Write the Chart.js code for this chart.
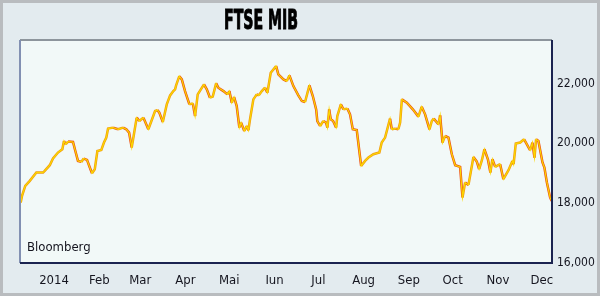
<!DOCTYPE html>
<html>
<head>
<meta charset="utf-8">
<title>FTSE MIB</title>
<script src="https://cdn.jsdelivr.net/npm/chart.js@4/dist/chart.umd.min.js"></script>
<style>
  html, body { margin: 0; padding: 0; background: #e3ebef; }
  canvas { display: block; }
</style>
</head>
<body>
<canvas id="ftseChart" width="600" height="296"></canvas>
<script>
// day offset from 1 Jan 2014
const days = [
  -22.8, -21.9, -19.7, -16.6, -12.1, -7.5, -6.4, -2.9, -0.7, 2.7,
  5.7, 6.8, 8.0, 9.6, 13.0, 14.6, 16.4, 18.7, 20.3, 22.6,
  24.5, 26.0, 27.9, 29.7, 32.4, 34.2, 35.8, 37.0, 40.4, 43.8,
  47.3, 49.5, 51.4, 53.2, 56.6, 58.4, 61.2, 64.6, 69.2, 70.8,
  72.1, 74.5, 77.2, 79.5, 81.7, 82.9, 83.6, 85.8, 87.5, 89.7,
  92.7, 95.0, 96.6, 98.4, 102.7, 104.6, 106.8, 108.7, 111.0, 112.5,
  116.0, 118.7, 120.1, 121.7, 123.3, 125.1, 126.9, 128.1, 130.3, 132.0,
  133.1, 134.2, 136.5, 138.8, 140.2, 142.3, 144.5, 146.1, 148.4, 152.1,
  153.6, 157.1, 159.4, 161.2, 163.9, 167.3, 169.7, 171.9, 174.9, 177.2,
  179.5, 180.3, 182.2, 184.4, 186.3, 187.2, 188.4, 189.5, 191.1, 193.2,
  194.0, 196.4, 198.2, 200.9, 202.7, 204.6, 207.3, 210.3, 213.0, 215.3,
  218.7, 222.8, 224.4, 226.7, 230.1, 231.3, 233.6, 235.8, 237.0, 238.2,
  241.6, 245.7, 249.5, 251.8, 254.1, 257.1, 258.7, 260.0, 263.2, 264.4,
  266.0, 267.8, 270.1, 272.4, 274.7, 278.1, 279.7, 281.5, 283.8, 287.2,
  289.5, 291.1, 293.0, 294.7, 297.1, 298.8, 300.2, 302.1, 305.5, 307.7,
  311.2, 313.9, 314.7, 316.2, 319.2, 321.9, 326.0, 327.6, 329.0, 330.1,
  331.7, 334.5, 335.8, 337.5, 339.7, 340.8
];

const closes = [
  18020, 18243, 18577, 18743, 19023, 19023, 19077, 19267, 19490, 19690,
  19800, 20077, 19967, 20057, 20043, 19743, 19410, 19377, 19490, 19443,
  19190, 19000, 19133, 19743, 19777, 20023, 20190, 20490, 20523, 20467,
  20523, 20467, 20357, 19857, 20857, 20743, 20857, 20467, 21077, 21110,
  21023, 20710, 21300, 21600, 21743, 21800, 21933, 22243, 22133, 21743,
  21300, 21333, 20910, 21633, 21967, 21800, 21523, 21557, 22000, 21857,
  21743, 21633, 21743, 21357, 21543, 21243, 20523, 20690, 20410, 20577,
  20433, 20800, 21467, 21633, 21600, 21743, 21857, 21690, 22357, 22577,
  22300, 22133, 22077, 22267, 21910, 21600, 21410, 21377, 21933, 21577,
  21133, 20743, 20577, 20743, 20690, 20523, 21133, 20800, 20743, 20523,
  20910, 21300, 21133, 21157, 20967, 20467, 20443, 19243, 19410, 19523,
  19633, 19690, 20023, 20190, 20823, 20467, 20490, 20467, 20690, 21467,
  21357, 21133, 20890, 21223, 20967, 20467, 20743, 20823, 20633, 20933,
  20023, 20243, 20190, 19633, 19267, 19210, 18190, 18690, 18610, 19543,
  19390, 19133, 19433, 19800, 19467, 19023, 19467, 19210, 19300, 18800,
  19100, 19410, 19300, 19990, 20023, 20133, 19767, 20023, 19523, 20133,
  20077, 19357, 19190, 18690, 18190, 18070
];

const monthStarts = [0, 31, 59, 90, 120, 151, 181, 212, 243, 273, 304, 334];
const monthLabels = ["2014", "Feb", "Mar", "Apr", "Mai", "Iun", "Jul", "Aug", "Sep", "Oct", "Nov", "Dec"];
const yTicks = [16000, 18000, 20000, 22000];

const FONT = "'DejaVu Sans Condensed', 'Liberation Sans Narrow', sans-serif";
Chart.defaults.font.family = FONT;
Chart.defaults.font.size = 13;
Chart.defaults.color = "#15151f";

const points = days.map((d, i) => ({ x: d, y: closes[i] }));

// backdrop, plot fill, borders, title and source text
const decor = {
  id: "decor",
  beforeDraw(chart) {
    const { ctx, chartArea: a, width, height } = chart;
    ctx.save();
    ctx.fillStyle = "#e3ebef";
    ctx.fillRect(0, 0, width, height);
    ctx.strokeStyle = "#b9bcbf";
    ctx.lineWidth = 3;
    ctx.strokeRect(1.5, 1.5, width - 3, height - 3);
    ctx.fillStyle = "#f2f9f8";
    ctx.fillRect(a.left, a.top, a.right - a.left, a.bottom - a.top);
    ctx.restore();
  },
  afterDraw(chart) {
    const { ctx, chartArea: a } = chart;
    ctx.save();
    ctx.lineWidth = 2;
    ctx.strokeStyle = "#8d959c";
    ctx.beginPath(); ctx.moveTo(a.left, a.top); ctx.lineTo(a.right, a.top); ctx.stroke();
    ctx.strokeStyle = "#8290b2";
    ctx.beginPath(); ctx.moveTo(a.left, a.top); ctx.lineTo(a.left, a.bottom); ctx.stroke();
    ctx.strokeStyle = "#1b2350";
    ctx.beginPath(); ctx.moveTo(a.right, a.top); ctx.lineTo(a.right, a.bottom); ctx.lineTo(a.left, a.bottom); ctx.stroke();

    // condensed heavy title
    ctx.fillStyle = "#000";
    ctx.font = "bold 27px " + FONT;
    ctx.textBaseline = "alphabetic";
    const title = "FTSE MIB";
    const w = ctx.measureText(title).width;
    ctx.translate(261, 29);
    ctx.scale(74 / w, 1);
    ctx.textAlign = "center";
    ctx.lineWidth = 1;
    ctx.strokeStyle = "#000";
    ctx.fillText(title, 0, 0);
    ctx.strokeText(title, 0, 0);
    ctx.restore();

    ctx.save();
    ctx.fillStyle = "#15151f";
    ctx.font = "13px " + FONT;
    ctx.textAlign = "left";
    ctx.fillText("Bloomberg", a.left + 7, a.bottom - 12);
    ctx.restore();
  }
};

new Chart(document.getElementById("ftseChart"), {
  type: "line",
  data: {
    datasets: [
      {
        // bright core of the line
        data: points,
        borderWidth: 1.2,
        pointRadius: 0,
        tension: 0,
        borderColor: "#fbd800"
      },
      {
        // orange-red rim beneath it
        data: points,
        borderWidth: 2.5,
        pointRadius: 0,
        tension: 0,
        borderColor: "#ee7614",
        segment: {
          borderColor: (c) => (c.p1.parsed.y < c.p0.parsed.y ? "#ec4e12" : "#f19a10")
        }
      }
    ]
  },
  options: {
    responsive: false,
    animation: false,
    layout: { padding: { left: 20, top: 40, right: 0, bottom: 0 } },
    plugins: { legend: { display: false }, tooltip: { enabled: false } },
    scales: {
      x: {
        type: "linear",
        min: -23.3,
        max: 341,
        grid: { display: false, drawTicks: false },
        border: { display: false },
        afterBuildTicks: (s) => { s.ticks = monthStarts.map((v) => ({ value: v })); },
        afterFit: (s) => { s.height = 33; },
        ticks: {
          autoSkip: false,
          maxRotation: 0,
          padding: 10,
          font: { size: 13 },
          callback: (v, i) => monthLabels[i]
        }
      },
      y: {
        position: "right",
        min: 16000,
        max: 23450,
        grid: { display: false, drawTicks: false },
        border: { display: false },
        afterBuildTicks: (s) => { s.ticks = yTicks.map((v) => ({ value: v })); },
        afterFit: (s) => { s.width = 48; },
        ticks: {
          padding: 5,
          font: { size: 12 },
          callback: (v) => v.toLocaleString("en-US")
        }
      }
    }
  },
  plugins: [decor]
});
</script>
</body>
</html>
